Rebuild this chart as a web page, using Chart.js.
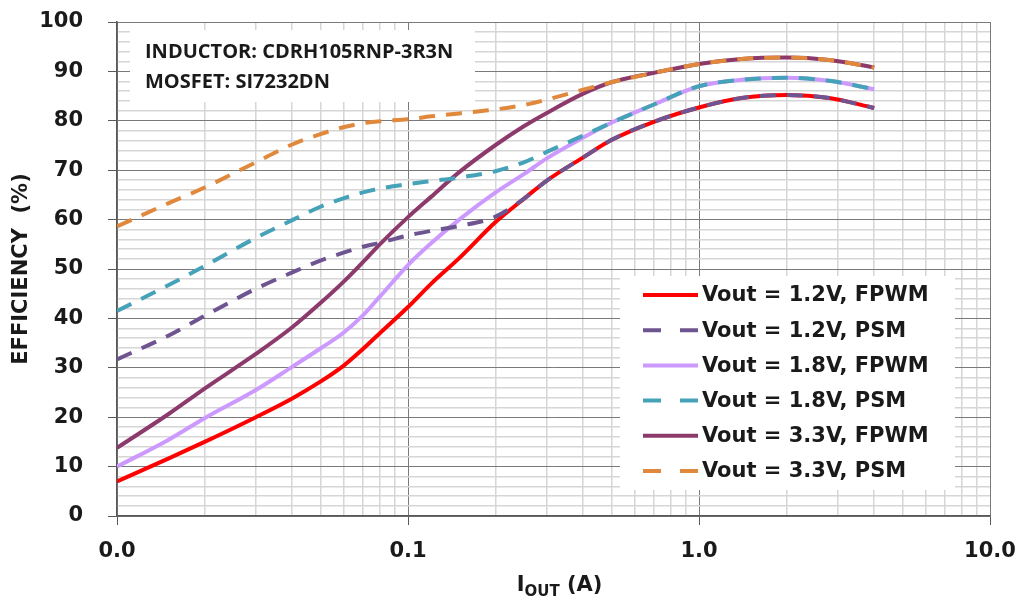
<!DOCTYPE html>
<html>
<head>
<meta charset="utf-8">
<script src="https://cdn.jsdelivr.net/npm/chart.js@4.4.1/dist/chart.umd.min.js"></script>
<style>
    body { margin: 0; background: #fff; }
    #wrap { width: 1019px; height: 604px; }
</style>
</head>
<body>
<div id="wrap"><canvas id="grafico" width="1019" height="604"></canvas></div>
<script>
// output current (A)
const current = [0.01, 0.015, 0.02, 0.03, 0.04, 0.05, 0.06, 0.07, 0.08, 0.1, 0.12, 0.15, 0.2, 0.25, 0.3, 0.4, 0.5, 0.7, 1.0, 1.4, 2.0, 2.8, 4.0];

// efficiency (%)
const fpwm12 = [7.0, 11.6, 15.0, 20.0, 23.8, 27.2, 30.4, 33.8, 37.0, 42.3, 47.0, 52.2, 59.5, 64.2, 67.9, 72.6, 76.1, 79.8, 82.7, 84.6, 85.2, 84.6, 82.6];
const psm12  = [31.7, 36.5, 40.5, 46.0, 49.3, 51.7, 53.3, 54.5, 55.3, 56.8, 57.7, 58.7, 60.6, 64.2, 67.9, 72.6, 76.1, 79.8, 82.7, 84.6, 85.2, 84.6, 82.6];
const fpwm18 = [10.0, 15.4, 19.8, 25.5, 30.2, 33.9, 37.1, 40.6, 44.4, 50.8, 55.2, 60.0, 65.5, 69.2, 72.4, 76.6, 79.6, 83.3, 87.0, 88.3, 88.7, 88.1, 86.4];
const psm18  = [41.5, 46.7, 50.6, 56.3, 59.9, 62.6, 64.3, 65.5, 66.3, 67.2, 67.8, 68.5, 69.8, 71.6, 73.7, 77.0, 79.6, 83.3, 87.0, 88.3, 88.7, 88.1, 86.4];
const fpwm33 = [13.8, 20.6, 25.8, 32.8, 38.2, 43.1, 47.4, 51.4, 55.0, 60.5, 64.6, 69.6, 75.1, 78.9, 81.6, 85.5, 87.8, 89.7, 91.5, 92.5, 92.8, 92.3, 90.8];
const psm33  = [58.6, 63.3, 66.5, 71.6, 75.2, 77.3, 78.7, 79.5, 79.9, 80.3, 80.9, 81.5, 82.3, 83.2, 84.3, 86.3, 87.8, 89.7, 91.5, 92.5, 92.8, 92.3, 90.8];

const seriesNames = ['Vout = 1.2V, FPWM', 'Vout = 1.2V, PSM', 'Vout = 1.8V, FPWM', 'Vout = 1.8V, PSM', 'Vout = 3.3V, FPWM', 'Vout = 3.3V, PSM'];
const seriesColors = ['#ff0000', '#6e5591', '#cc99ff', '#46a2b8', '#8c3a6c', '#e0893d'];
const seriesDashed = [false, true, false, true, false, true];
const seriesValues = [fpwm12, psm12, fpwm18, psm18, fpwm33, psm33];

// axes
const xGridValues = [0.01, 0.02, 0.03, 0.04, 0.05, 0.06, 0.07, 0.08, 0.09,
                     0.1, 0.2, 0.3, 0.4, 0.5, 0.6, 0.7, 0.8, 0.9,
                     1, 2, 3, 4, 5, 6, 7, 8, 9, 10];
const xTickValues = [0.01, 0.1, 1, 10];
const xTickLabels = ['0.0', '0.1', '1.0', '10.0'];
const noteLines = ['INDUCTOR: CDRH105RNP-3R3N', 'MOSFET: SI7232DN'];

const FONT = '"DejaVu Sans", sans-serif';
const DASH = [16, 11];

const isMajorX = v => xTickValues.some(t => Math.abs(t - v) < 1e-9);

const datasets = seriesValues.map((vals, i) => ({
    label: seriesNames[i],
    data: current.map((x, k) => ({ x: x, y: vals[k] })),
    borderColor: seriesColors[i],
    borderWidth: 4,
    borderDash: seriesDashed[i] ? DASH : [],
    pointRadius: 0,
    cubicInterpolationMode: 'monotone',
    fill: false,
    order: seriesDashed[i] ? 0 : 1
}));

function noPadding(s) {
    s.paddingTop = 0;
    s.paddingBottom = 0;
    s.paddingLeft = 0;
    s.paddingRight = 0;
}

const extras = {
    id: 'extras',
    beforeDatasetsDraw(chart) {
        const ctx = chart.ctx;
        ctx.save();
        // caixa de nota
        ctx.fillStyle = '#fff';
        ctx.fillRect(130, 30, 345, 72);
        ctx.fillStyle = '#1a1a1a';
        ctx.font = 'bold 20px "Open Sans", sans-serif';
        ctx.textBaseline = 'middle';
        ctx.textAlign = 'left';
        ctx.fillText(noteLines[0], 145, 52);
        ctx.fillText(noteLines[1], 145, 82);

        // legenda
        ctx.fillStyle = '#fff';
        ctx.fillRect(620, 276, 335, 214);
        ctx.font = 'bold 21px ' + FONT;
        seriesNames.forEach((name, i) => {
            const y = 295 + i * 35.2;
            ctx.beginPath();
            ctx.strokeStyle = seriesColors[i];
            ctx.lineWidth = 4;
            ctx.setLineDash(seriesDashed[i] ? [18, 19] : []);
            ctx.moveTo(643, y);
            ctx.lineTo(698, y);
            ctx.stroke();
            ctx.setLineDash([]);
            ctx.fillStyle = '#1a1a1a';
            ctx.fillText(name, 702, y + 1);
        });
        ctx.restore();
    },
    afterDraw(chart) {
        const ctx = chart.ctx;
        const area = chart.chartArea;
        ctx.save();
        ctx.fillStyle = '#1a1a1a';
        // titulo eixo y
        ctx.font = 'bold 21px ' + FONT;
        ctx.translate(22, (area.top + area.bottom) / 2);
        ctx.rotate(-Math.PI / 2);
        ctx.textAlign = 'center';
        ctx.textBaseline = 'middle';
        ctx.fillText('EFFICIENCY  (%)', 0, 0);
        ctx.restore();

        // titulo eixo x com subscrito
        ctx.save();
        ctx.fillStyle = '#1a1a1a';
        ctx.textBaseline = 'alphabetic';
        ctx.textAlign = 'left';
        const big = 'bold 21px ' + FONT;
        const small = 'bold 15px ' + FONT;
        ctx.font = big;
        const wI = ctx.measureText('I').width;
        const wA = ctx.measureText(' (A)').width;
        ctx.font = small;
        const wOut = ctx.measureText('OUT').width;
        const total = wI + wOut + wA;
        let x = (area.left + area.right) / 2 + 6 - total / 2;
        const base = 591;
        ctx.font = big;
        ctx.fillText('I', x, base);
        x += wI;
        ctx.font = small;
        ctx.fillText('OUT', x, base + 5);
        x += wOut;
        ctx.font = big;
        ctx.fillText(' (A)', x, base);
        ctx.restore();
    }
};

new Chart(document.getElementById('grafico'), {
    type: 'line',
    data: { datasets: datasets },
    options: {
        responsive: false,
        animation: false,
        devicePixelRatio: 1,
        layout: { padding: { top: 22, right: 29, left: 0, bottom: 0 } },
        plugins: {
            legend: { display: false },
            tooltip: { enabled: false }
        },
        scales: {
            x: {
                type: 'logarithmic',
                min: 0.01,
                max: 10,
                afterBuildTicks: s => { s.ticks = xGridValues.map(v => ({ value: v })); },
                afterFit: s => { s.height = 88; noPadding(s); },
                ticks: {
                    autoSkip: false,
                    maxRotation: 0,
                    padding: 14,
                    color: '#1a1a1a',
                    font: { family: 'DejaVu Sans', size: 21, weight: 'bold' },
                    callback: v => {
                        const i = xTickValues.findIndex(t => Math.abs(t - v) < 1e-9);
                        return i >= 0 ? xTickLabels[i] : '';
                    }
                },
                grid: {
                    color: c => isMajorX(c.tick.value) ? '#7a7a7a' : '#d6d6d6',
                    lineWidth: c => isMajorX(c.tick.value) ? 1 : 1.5,
                    tickColor: c => isMajorX(c.tick.value) ? '#595959' : 'transparent',
                    tickLength: 9
                },
                border: { color: '#595959', width: 1.5 }
            },
            y: {
                min: 0,
                max: 100,
                afterFit: s => { s.width = 117; noPadding(s); },
                ticks: {
                    stepSize: 2,
                    autoSkip: false,
                    padding: 25,
                    color: '#1a1a1a',
                    font: { family: 'DejaVu Sans', size: 21, weight: 'bold' },
                    callback: v => v % 10 === 0 ? v : ''
                },
                grid: {
                    color: c => c.tick.value % 10 === 0 ? '#7a7a7a' : '#d6d6d6',
                    lineWidth: c => c.tick.value % 10 === 0 ? 1 : 1.5,
                    tickColor: c => c.tick.value % 10 === 0 ? '#595959' : 'transparent',
                    tickLength: 9
                },
                border: { color: '#595959', width: 1.5 }
            }
        }
    },
    plugins: [extras]
});
</script>
</body>
</html>
